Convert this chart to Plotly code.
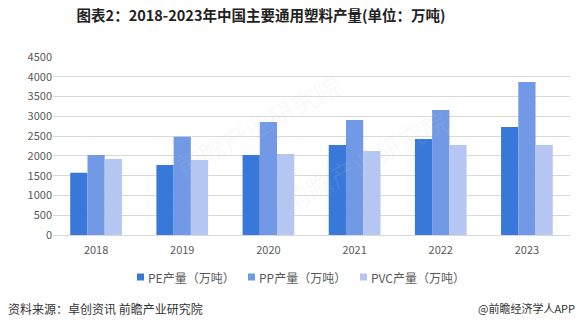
import plotly.graph_objects as go

years = ["2018", "2019", "2020", "2021", "2022", "2023"]
pe = [1575, 1770, 2022, 2275, 2427, 2730]
pp = [2022, 2485, 2857, 2907, 3160, 3868]
pvc = [1921, 1896, 2048, 2124, 2275, 2275]

names = ["PE产量（万吨）", "PP产量（万吨）", "PVC产量（万吨）"]
colors = ["#3878D8", "#7199E6", "#B4C6F1"]
y_ticks = list(range(0, 4501, 500))

font_cn = "Microsoft YaHei, Noto Sans CJK SC, sans-serif"

W, H = 579, 336
L, R, T, B = 53, 9, 57, 101
PW, PH = W - L - R, H - T - B


def px(x):
    return (x - L) / PW


def py(y):
    return (H - B - y) / PH


fig = go.Figure()
for name, vals, col in zip(names, [pe, pp, pvc], colors):
    fig.add_trace(go.Bar(x=years, y=vals, name=name, showlegend=False,
                         marker=dict(color=col, line=dict(width=0))))

fig.update_layout(
    width=W, height=H,
    margin=dict(l=L, r=R, t=T, b=B),
    paper_bgcolor="white", plot_bgcolor="white",
    barmode="group", bargap=0.4, bargroupgap=0,
    font=dict(family=font_cn, color="#595959", size=11),
    title=dict(text="<b>图表2：2018-2023年中国主要通用塑料产量(单位：万吨)</b>",
               x=261 / W, xanchor="center", y=1 - 16 / H, yanchor="middle",
               font=dict(size=14.5, color="#222222", family=font_cn)),
    xaxis=dict(showgrid=False, showline=True, linecolor="#D9D9D9", ticks="",
               ticklabelstandoff=5,
               tickfont=dict(size=11, color="#595959")),
    yaxis=dict(range=[0, 4500], tickvals=y_ticks, showgrid=True, gridcolor="#D9D9D9",
               zeroline=False, showline=False, ticks="", ticklen=0,
               tickfont=dict(size=11, color="#595959")),
    showlegend=False,
)

# faint watermark
for wx, wy in [(0.22, 0.62), (0.78, 0.42)]:
    fig.add_annotation(text="前瞻产业研究院", xref="paper", yref="paper", x=wx, y=wy,
                       showarrow=False, textangle=-28,
                       font=dict(size=26, color="rgba(200,205,215,0.12)", family=font_cn))

# legend: small squares followed by labels
legend_x = [137, 248, 360]
for lx, name, col in zip(legend_x, names, colors):
    fig.add_shape(type="rect", xref="paper", yref="paper",
                  x0=px(lx), x1=px(lx + 7), y0=py(280.5), y1=py(273.5),
                  fillcolor=col, line=dict(width=0))
    fig.add_annotation(text=name, xref="paper", yref="paper", x=px(lx + 9), xanchor="left",
                       y=py(277), yanchor="middle", showarrow=False,
                       font=dict(size=12, color="#595959", family=font_cn))

fig.add_annotation(text="资料来源：卓创资讯 前瞻产业研究院", xref="paper", yref="paper",
                   x=px(6), xanchor="left", y=py(308), yanchor="middle", showarrow=False,
                   font=dict(size=12, color="#333333", family=font_cn))
fig.add_annotation(text="@前瞻经济学人APP", xref="paper", yref="paper",
                   x=px(577), xanchor="right", y=py(308), yanchor="middle", showarrow=False,
                   font=dict(size=11, color="#333333", family=font_cn))

fig.write_html("out.html")
